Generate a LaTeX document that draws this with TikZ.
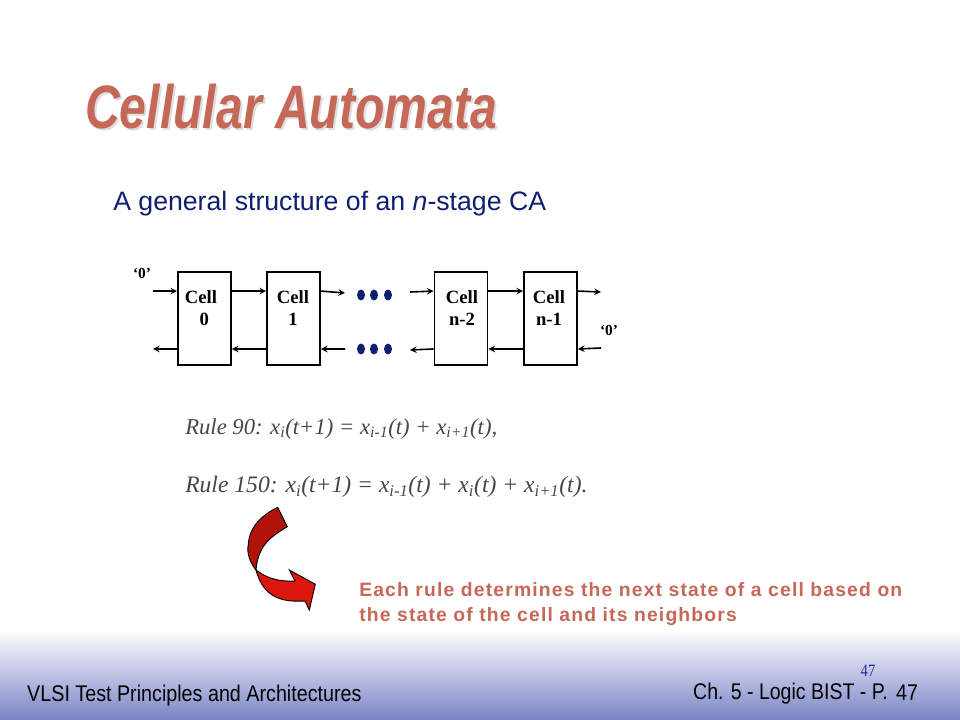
\documentclass[tikz,border=0pt]{standalone}
\usepackage{fontspec}
\setmainfont{Liberation Sans}
\newfontfamily\timesfont{Liberation Serif}
\definecolor{titlered}{RGB}{198,104,88}
\definecolor{titleshade}{RGB}{222,222,222}
\definecolor{navytext}{RGB}{16,32,112}
\definecolor{banddark}{RGB}{122,132,198}
\definecolor{ruletext}{RGB}{70,70,70}
\tikzset{
  cellbox/.style={draw,line width=1.4pt,minimum width=39.75pt,minimum height=70pt,inner sep=0pt},
  celltext/.style={font=\timesfont\bfseries\fontsize{14}{16.5}\selectfont,align=center,inner sep=0pt},
  zerotext/.style={font=\timesfont\bfseries\fontsize{11.5}{14}\selectfont,inner sep=0pt},
  wire/.style={line width=1.2pt,-stealth},
  ruleline/.style={text=ruletext,anchor=west,inner sep=0pt},
  foottext/.style={font=\fontsize{17}{20}\selectfont,xscale=0.87,transform shape,inner sep=0pt},
  titletext/.style={font=\bfseries\itshape\fontsize{46}{50}\selectfont,xscale=0.785,transform shape,anchor=west,inner sep=0pt},
}
\begin{document}
\begin{tikzpicture}[x=0.75pt,y=-0.75pt]
\useasboundingbox (0,0) rectangle (960,720);
\fill[white] (0,0) rectangle (960,720);
\shade[top color=white,bottom color=banddark] (0,630) rectangle (960,720);
% title
\node[titletext,text=titleshade] (titleshadow) at (87,109) {Cellular Automata};
\node[titletext,text=titlered] (title) at (85,107) {Cellular Automata};
\node[anchor=west,inner sep=0pt,text=navytext,font=\fontsize{20}{24}\selectfont] (subtitle) at (113,204) {A general structure of an \textit{n}-stage CA};
% cells
\node[cellbox] (c0) at (204.5,318.5) {};
\node[cellbox] (c1) at (293.5,318.5) {};
\node[cellbox] (c2) at (461,318.5) {};
\node[cellbox] (c3) at (550.5,318.5) {};
\node[celltext] (t0) at (201,308) {Cell\\\hspace*{5pt}0};
\node[celltext] (t1) at (293,308) {Cell\\1};
\node[celltext] (t2) at (462,308) {Cell\\n-2};
\node[celltext] (t3) at (549,308) {Cell\\n-1};
\node[zerotext] (z0) at (142,273) {‘0’};
\node[zerotext] (z1) at (609,330) {‘0’};
% free ends
\coordinate (inl) at (153,291);
\coordinate (outl) at (153,349);
\coordinate (gapa) at (345,293);
\coordinate (gapb) at (345,349);
\coordinate (gapc) at (410,292);
\coordinate (gapd) at (410,350);
\coordinate (outr) at (601,292);
\coordinate (inr) at (601,348);
% top wires
\draw[wire] (inl) -- (c0.135);
\draw[wire] (c0.45) -- (c1.135);
\draw[wire] (c1.45) -- (gapa);
\draw[wire] (gapc) -- (c2.135);
\draw[wire] (c2.45) -- (c3.135);
\draw[wire] (c3.45) -- (outr);
% bottom wires
\draw[wire] (c0.228) -- (outl);
\draw[wire] (c1.228) -- (c0.-48);
\draw[wire] (gapb) -- (c1.-48);
\draw[wire] (c2.228) -- (gapd);
\draw[wire] (c3.228) -- (c2.-48);
\draw[wire] (inr) -- (c3.-48);
% dots
\foreach \px in {361,374,388}{
  \fill[navytext] (\px,295) ellipse [x radius=4,y radius=5.5];
  \fill[navytext] (\px,349) ellipse [x radius=4,y radius=5.5];
}
% rules
\node[ruleline,font=\timesfont\itshape\fontsize{17}{20}\selectfont] (rule90) at (185,429) {Rule 90: x\textsubscript{i}(t+1) = x\textsubscript{i-1}(t) + x\textsubscript{i+1}(t),};
\node[ruleline,font=\timesfont\itshape\fontsize{17.7}{20}\selectfont] (rule150) at (185,487) {Rule 150: x\textsubscript{i}(t+1) = x\textsubscript{i-1}(t) + x\textsubscript{i}(t) + x\textsubscript{i+1}(t).};
% curved arrow
\draw[line width=0.7pt,fill={rgb,255:red,176;green,20;blue,8}] (277.7,507.3) -- (287.3,526.7)
  .. controls (270,537) and (258,546) .. (256,570)
  .. controls (248,560) and (247,550) .. (248.3,545)
  .. controls (249,527) and (262,515) .. (277.7,507.3) -- cycle;
\draw[line width=0.7pt,fill={rgb,255:red,220;green,24;blue,14}] (256,570)
  .. controls (264,576) and (275,582) .. (295,581)
  -- (289.3,570) -- (315.3,584.3) -- (309.3,610) -- (305,601)
  .. controls (285,602) and (264,600) .. (256,570) -- cycle;
% note
\node[anchor=west,align=left,inner sep=0pt,text=titlered,font=\addfontfeature{LetterSpace=6}\bfseries\fontsize{14.5}{18.75}\selectfont] (note) at (359,604.5) {Each rule determines the next state of a cell based on\\the state of the cell and its neighbors};
% footer
\node[foottext,anchor=west] (footl) at (27,696) {VLSI Test Principles and Architectures};
\node[foottext,anchor=east,xscale=0.99] (footr) at (888,694) {Ch. 5 - Logic BIST - P.};
\node[foottext,anchor=west] (footn) at (896,693) {47};
\node[inner sep=0pt,text={rgb,255:red,40;green,40;blue,170},font=\timesfont\fontsize{13}{15}\selectfont,xscale=0.85,transform shape] (pagenum) at (868,671) {47};
\end{tikzpicture}
\end{document}
